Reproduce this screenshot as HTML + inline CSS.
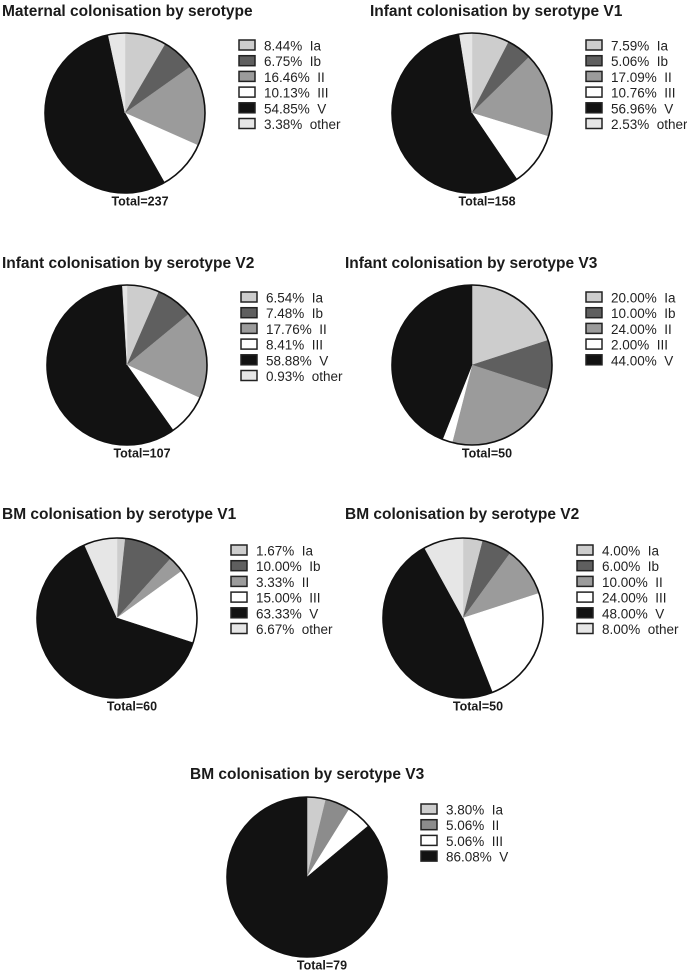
<!DOCTYPE html>
<html><head><meta charset="utf-8"><style>
html,body{margin:0;padding:0;background:#fff;}
svg{display:block;font-family:"Liberation Sans",Arial,sans-serif;}
</style></head><body>
<svg id="chart" width="687" height="974" viewBox="0 0 687 974"></svg>
<script>
const titles = ["Maternal colonisation by serotype","Infant colonisation by serotype V1","Infant colonisation by serotype V2","Infant colonisation by serotype V3","BM colonisation by serotype V1","BM colonisation by serotype V2","BM colonisation by serotype V3"];
const totals = [237,158,107,50,60,50,79];
const labels1 = ["Ia","Ib","II","III","V","other"];
const labels2 = ["Ia","Ib","II","III","V"];
const labels3 = ["Ia","II","III","V"];
const seriesLabels = [labels1,labels1,labels1,labels2,labels1,labels1,labels3];
const values0 = [8.44,6.75,16.46,10.13,54.85,3.38];
const values1 = [7.59,5.06,17.09,10.76,56.96,2.53];
const values2 = [6.54,7.48,17.76,8.41,58.88,0.93];
const values3 = [20.00,10.00,24.00,2.00,44.00];
const values4 = [1.67,10.00,3.33,15.00,63.33,6.67];
const values5 = [4.00,6.00,10.00,24.00,48.00,8.00];
const values6 = [3.80,5.06,5.06,86.08];
const allValues = [values0,values1,values2,values3,values4,values5,values6];

const layout = [
 {tx:2,ty:16,cx:125,cy:113},
 {tx:370,ty:16,cx:472,cy:113},
 {tx:2,ty:268,cx:127,cy:365},
 {tx:345,ty:268,cx:472,cy:365},
 {tx:2,ty:519,cx:117,cy:618},
 {tx:345,ty:519,cx:463,cy:618},
 {tx:190,ty:779,cx:307,cy:877}
];
const colorMap = {"Ia":"#cdcdcd","Ib":"#5f5f5f","II":"#9b9b9b","III":"#ffffff","V":"#121212","other":"#e6e6e6"};
const R = 80;
const NS = "http://www.w3.org/2000/svg";
const svg = document.getElementById('chart');
function mk(tag, attrs, parent){const e=document.createElementNS(NS,tag);for(const k in attrs)e.setAttribute(k,attrs[k]);(parent||svg).appendChild(e);return e;}
function fmt(v){return v.toFixed(2)+"%";}

allValues.forEach((vals, i) => {
  const L = layout[i];
  const g = mk('g', {});
  
  
  const t = mk('text', {x:L.tx, y:L.ty, 'font-size':'15.5', 'font-weight':'bold', fill:'#1a1a1a'}, g);
  t.textContent = titles[i];
  
  
  const sum = vals.reduce((a,b)=>a+b,0);
  let acc = 0;
  const labs = seriesLabels[i];
  vals.forEach((v, j) => {
    const a0 = acc/sum*2*Math.PI; acc += v; const a1 = acc/sum*2*Math.PI;
    const x0 = L.cx + R*Math.sin(a0), y0 = L.cy - R*Math.cos(a0);
    const x1 = L.cx + R*Math.sin(a1), y1 = L.cy - R*Math.cos(a1);
    const large = (a1-a0) > Math.PI ? 1 : 0;
    let col = colorMap[labs[j]];
    if (i===6 && labs[j]==="II") col = "#8c8c8c";
    const p = mk('path', {d:`M${L.cx},${L.cy} L${x0},${y0} A${R},${R} 0 ${large} 1 ${x1},${y1} Z`, fill:col, stroke:col, 'stroke-width':'0.5'}, g);
    
    
    const ly = L.cy - R + 7 + j*15.7;
    const bx = L.cx + 114;
    const box = mk('rect', {x:bx, y:ly, width:16, height:10, fill:col, stroke:'#222', 'stroke-width':'1.5'}, g);
    
    
    const lt = mk('text', {x:bx+25, y:ly+10.5, 'font-size':'13.5', fill:'#222'}, g);
    lt.textContent = fmt(v) + "\u00a0\u00a0" + labs[j];
    
    
  });
  const c = mk('circle', {cx:L.cx, cy:L.cy, r:R, fill:'none', stroke:'#111', 'stroke-width':'1.6'}, g);
  
  
  const tt = mk('text', {x:L.cx+15, y:L.cy+R+12.5, 'font-size':'12.5', 'font-weight':'bold', fill:'#1a1a1a', 'text-anchor':'middle'}, g);
  tt.textContent = "Total=" + totals[i];
  
  
});
</script>
</body></html>
